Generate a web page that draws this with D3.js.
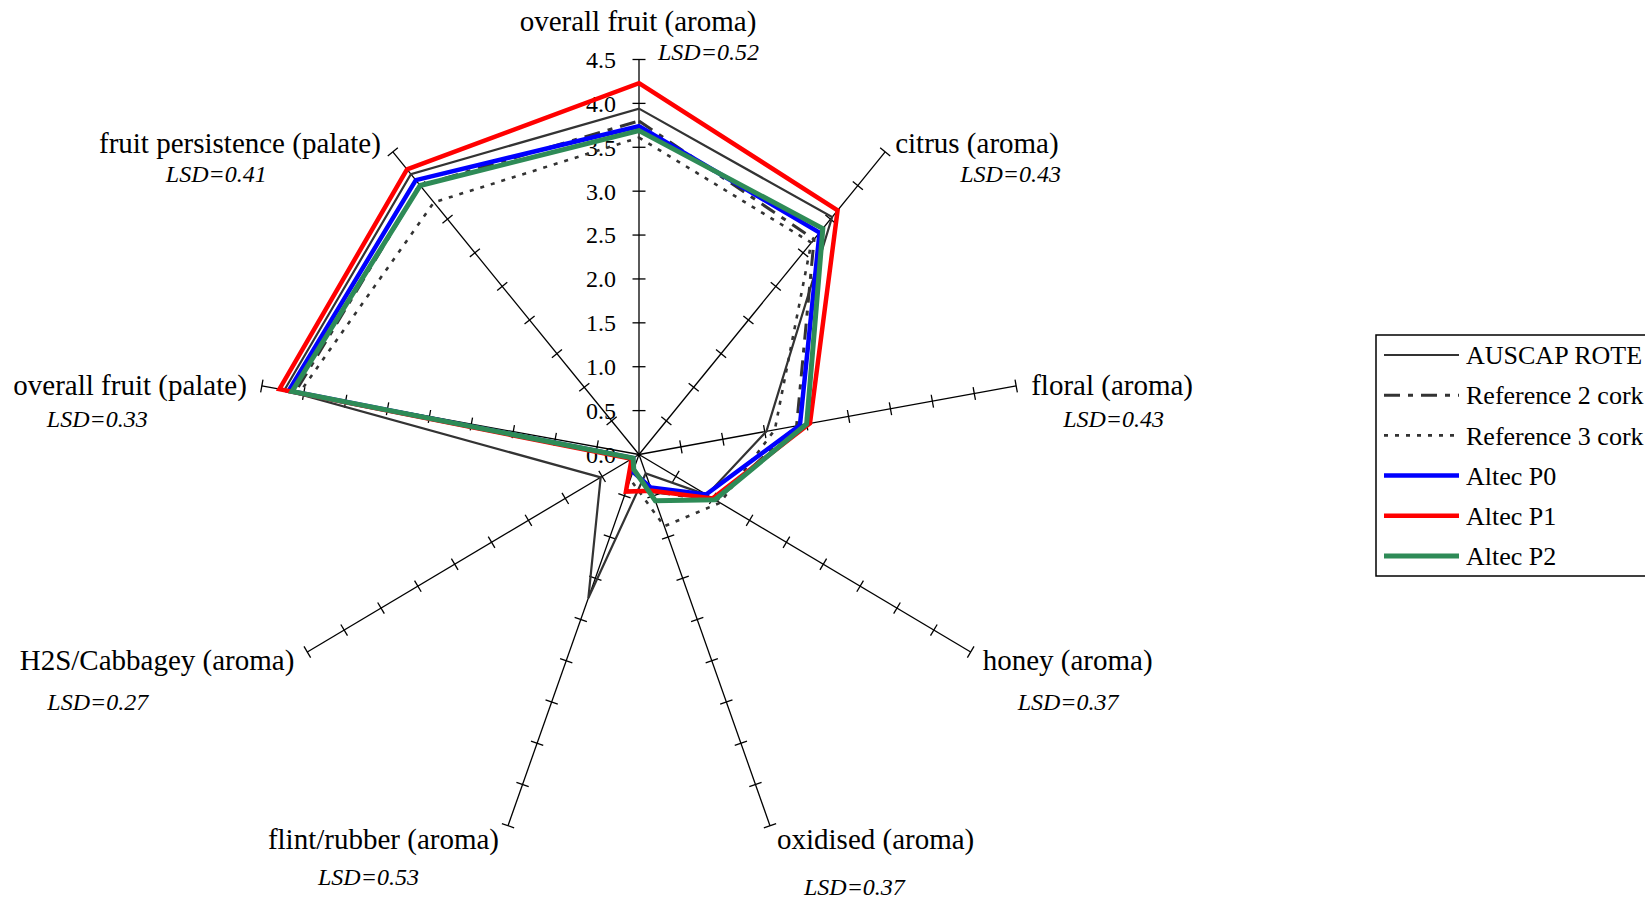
<!DOCTYPE html>
<html>
<head>
<meta charset="utf-8">
<script src="https://cdn.jsdelivr.net/npm/d3@7"></script>
<style>
  body { margin: 0; background: #fff; }
  svg { display: block; font-family: "Liberation Serif", "Times New Roman", serif; }
</style>
</head>
<body>
<div id="chart"></div>
<script>
// Axes (clockwise from the top) and their LSD notes
const axes = [
  "overall fruit (aroma)", "citrus (aroma)", "floral (aroma)", "honey (aroma)",
  "oxidised (aroma)", "flint/rubber (aroma)", "H2S/Cabbagey (aroma)",
  "overall fruit (palate)", "fruit persistence (palate)"
];
const lsd = ["LSD=0.52", "LSD=0.43", "LSD=0.43", "LSD=0.37", "LSD=0.37", "LSD=0.53", "LSD=0.27", "LSD=0.33", "LSD=0.41"];

// Series values, one per axis
const seriesNames = ["AUSCAP ROTE", "Reference 2 cork", "Reference 3 cork", "Altec P0", "Altec P1", "Altec P2"];
const auscap  = [3.94, 3.53, 1.52, 0.92, 0.23, 1.74, 0.52, 4.23, 4.17];
const ref2    = [3.80, 3.20, 1.88, 1.05, 0.45, 0.20, 0.10, 4.10, 4.00];
const ref3    = [3.61, 3.15, 1.62, 1.10, 0.87, 0.30, 0.10, 4.05, 3.75];
const altecP0 = [3.74, 3.30, 1.92, 0.91, 0.40, 0.21, 0.08, 4.18, 4.08];
const altecP1 = [4.23, 3.63, 2.04, 1.00, 0.44, 0.45, 0.10, 4.29, 4.24];
const altecP2 = [3.69, 3.36, 2.00, 1.03, 0.56, 0.18, 0.08, 4.14, 4.00];

const tickValues = [0, 0.5, 1, 1.5, 2, 2.5, 3, 3.5, 4, 4.5];
const tickLabels = ["0.0", "0.5", "1.0", "1.5", "2.0", "2.5", "3.0", "3.5", "4.0", "4.5"];

const width = 1645, height = 900;
const cx = 639, cy = 454.5;

const svg = d3.select("#chart").append("svg")
  .attr("width", width)
  .attr("height", height);

svg.append("rect").attr("width", width).attr("height", height).attr("fill", "#fff");

// the plot is slightly squashed horizontally, like the source picture
const rx = d3.scaleLinear().domain([0, 4.5]).range([0, 383]);
const ry = d3.scaleLinear().domain([0, 4.5]).range([0, 395]);
const angle = d3.scaleLinear().domain([0, axes.length]).range([0, 2 * Math.PI]);

const point = (i, v) => [cx + rx(v) * Math.sin(angle(i)), cy - ry(v) * Math.cos(angle(i))];

// Axis lines + tick marks
const axisG = svg.append("g").attr("stroke", "#000").attr("stroke-width", 1.3);
axes.forEach((a, i) => {
  const end = point(i, 4.5);
  axisG.append("line")
    .attr("x1", cx).attr("y1", cy).attr("x2", end[0]).attr("y2", end[1]);
  const dx = end[0] - cx, dy = end[1] - cy;
  const len = Math.hypot(dx, dy);
  const nx = -dy / len, ny = dx / len;
  tickValues.slice(1).forEach(t => {
    const p = point(i, t);
    axisG.append("line")
      .attr("x1", p[0] - nx * 6.5).attr("y1", p[1] - ny * 6.5)
      .attr("x2", p[0] + nx * 6.5).attr("y2", p[1] + ny * 6.5);
  });
});

// Tick labels on the top axis
svg.append("g").selectAll("text")
  .data(tickValues)
  .join("text")
  .attr("x", cx - 23)
  .attr("y", d => point(0, d)[1])
  .attr("dy", "0.35em")
  .attr("text-anchor", "end")
  .attr("font-size", 24)
  .text((d, i) => tickLabels[i]);

// Axis labels, placed from the axis ends
const labelOffsets = [[-1, -38.5, "middle"], [10, -9, "start"], [15, -1, "start"], [12, 8, "start"],
  [7, 13, "start"], [-9, 13, "end"], [-13, 8, "end"], [-15, -1, "end"], [-12, -9, "end"]];
const lsdOffsets = [[19, -7.5], [75, 22], [47, 33], [47, 50], [34, 61], [-190, 51], [-260, 50], [-215, 33], [-227, 22]];

axes.forEach((a, i) => {
  const end = point(i, 4.5);
  const o = labelOffsets[i];
  svg.append("text")
    .attr("x", end[0] + o[0]).attr("y", end[1] + o[1])
    .attr("dy", "0.35em")
    .attr("text-anchor", o[2])
    .attr("font-size", 29)
    .text(a);
  const l = lsdOffsets[i];
  svg.append("text")
    .attr("x", end[0] + l[0]).attr("y", end[1] + l[1])
    .attr("dy", "0.35em")
    .attr("font-size", 24)
    .attr("font-style", "italic")
    .text(lsd[i]);
});

// Series
const series = [
  { name: seriesNames[0], values: auscap,  color: "#333", width: 2.2, dash: null },
  { name: seriesNames[1], values: ref2,    color: "#333", width: 3, dash: "16,8,5,8" },
  { name: seriesNames[2], values: ref3,    color: "#333", width: 2.6, dash: "4,7" },
  { name: seriesNames[3], values: altecP0, color: "#0000ff", width: 4.5, dash: null },
  { name: seriesNames[4], values: altecP1, color: "#ff0000", width: 4.5, dash: null },
  { name: seriesNames[5], values: altecP2, color: "#2e8b57", width: 5, dash: null }
];

const radar = d3.line()
  .x((d, i) => point(i, d)[0])
  .y((d, i) => point(i, d)[1])
  .curve(d3.curveLinearClosed);

svg.append("g").selectAll("path")
  .data(series)
  .join("path")
  .attr("d", d => radar(d.values))
  .attr("fill", "none")
  .attr("stroke", d => d.color)
  .attr("stroke-width", d => d.width)
  .attr("stroke-dasharray", d => d.dash)
  .attr("stroke-linejoin", "miter");

// Legend
const legend = svg.append("g");
legend.append("rect")
  .attr("x", 1376).attr("y", 335)
  .attr("width", 320).attr("height", 241)
  .attr("fill", "none").attr("stroke", "#000").attr("stroke-width", 1.5);

const rowY = d3.scalePoint().domain(seriesNames).range([355, 556]);
series.forEach(s => {
  legend.append("line")
    .attr("x1", 1384).attr("x2", 1459)
    .attr("y1", rowY(s.name)).attr("y2", rowY(s.name))
    .attr("stroke", s.color)
    .attr("stroke-width", s.width)
    .attr("stroke-dasharray", s.dash);
  legend.append("text")
    .attr("x", 1466).attr("y", rowY(s.name))
    .attr("dy", "0.35em")
    .attr("font-size", 26)
    .text(s.name);
});
</script>
</body>
</html>
